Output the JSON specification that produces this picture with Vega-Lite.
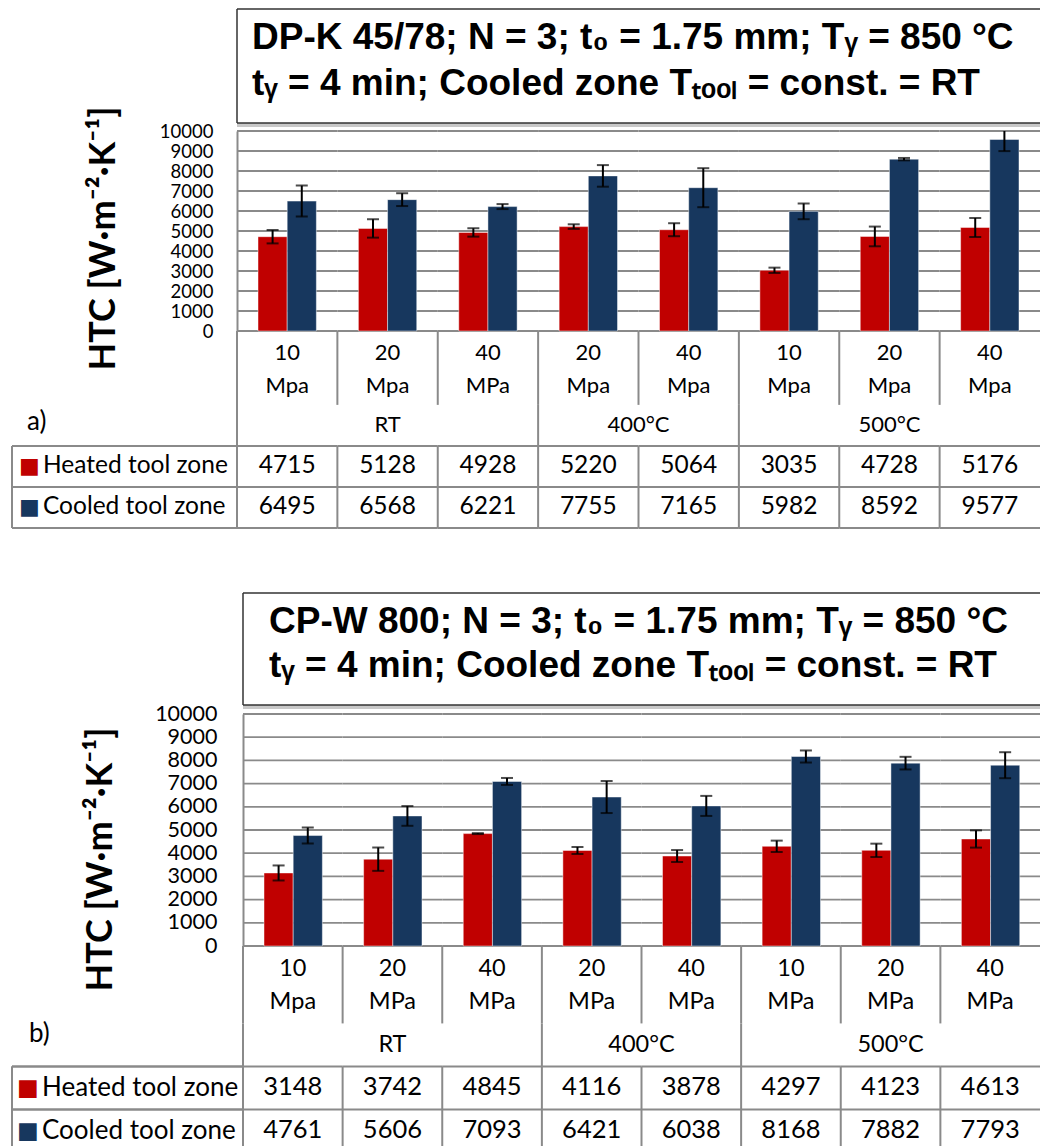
{
  "$schema": "https://vega.github.io/schema/vega-lite/v6.json",
  "background": "white",
  "padding": {"left": 11, "top": 8, "right": 0, "bottom": 0},
  "config": {
    "view": {"stroke": null},
    "text": {"font": "Lato", "color": "black"},
    "axis": {"labelFont": "Lato", "titleFont": "Lato"}
  },
  "datasets": {
    "a": [
      {"i": 0, "label": "10\nMpa", "temp": "RT", "series": "Heated tool zone", "htc": 4715, "lo": 4380, "hi": 5050},
      {"i": 0, "label": "10\nMpa", "temp": "RT", "series": "Cooled tool zone", "htc": 6495, "lo": 5720, "hi": 7270},
      {"i": 1, "label": "20\nMpa", "temp": "RT", "series": "Heated tool zone", "htc": 5128, "lo": 4668, "hi": 5588},
      {"i": 1, "label": "20\nMpa", "temp": "RT", "series": "Cooled tool zone", "htc": 6568, "lo": 6248, "hi": 6888},
      {"i": 2, "label": "40\nMPa", "temp": "RT", "series": "Heated tool zone", "htc": 4928, "lo": 4718, "hi": 5138},
      {"i": 2, "label": "40\nMPa", "temp": "RT", "series": "Cooled tool zone", "htc": 6221, "lo": 6096, "hi": 6346},
      {"i": 3, "label": "20\nMpa", "temp": "400°C", "series": "Heated tool zone", "htc": 5220, "lo": 5105, "hi": 5335},
      {"i": 3, "label": "20\nMpa", "temp": "400°C", "series": "Cooled tool zone", "htc": 7755, "lo": 7215, "hi": 8295},
      {"i": 4, "label": "40\nMpa", "temp": "400°C", "series": "Heated tool zone", "htc": 5064, "lo": 4739, "hi": 5389},
      {"i": 4, "label": "40\nMpa", "temp": "400°C", "series": "Cooled tool zone", "htc": 7165, "lo": 6190, "hi": 8140},
      {"i": 5, "label": "10\nMpa", "temp": "500°C", "series": "Heated tool zone", "htc": 3035, "lo": 2902, "hi": 3168},
      {"i": 5, "label": "10\nMpa", "temp": "500°C", "series": "Cooled tool zone", "htc": 5982, "lo": 5589, "hi": 6375},
      {"i": 6, "label": "20\nMpa", "temp": "500°C", "series": "Heated tool zone", "htc": 4728, "lo": 4235, "hi": 5221},
      {"i": 6, "label": "20\nMpa", "temp": "500°C", "series": "Cooled tool zone", "htc": 8592, "lo": 8532, "hi": 8652},
      {"i": 7, "label": "40\nMpa", "temp": "500°C", "series": "Heated tool zone", "htc": 5176, "lo": 4701, "hi": 5651},
      {"i": 7, "label": "40\nMpa", "temp": "500°C", "series": "Cooled tool zone", "htc": 9577, "lo": 8995, "hi": 10159}
    ],
    "b": [
      {"i": 0, "label": "10\nMpa", "temp": "RT", "series": "Heated tool zone", "htc": 3148, "lo": 2824, "hi": 3472},
      {"i": 0, "label": "10\nMpa", "temp": "RT", "series": "Cooled tool zone", "htc": 4761, "lo": 4416, "hi": 5106},
      {"i": 1, "label": "20\nMPa", "temp": "RT", "series": "Heated tool zone", "htc": 3742, "lo": 3239, "hi": 4245},
      {"i": 1, "label": "20\nMPa", "temp": "RT", "series": "Cooled tool zone", "htc": 5606, "lo": 5181, "hi": 6031},
      {"i": 2, "label": "40\nMPa", "temp": "RT", "series": "Heated tool zone", "htc": 4845, "lo": 4825, "hi": 4865},
      {"i": 2, "label": "40\nMPa", "temp": "RT", "series": "Cooled tool zone", "htc": 7093, "lo": 6943, "hi": 7243},
      {"i": 3, "label": "20\nMPa", "temp": "400°C", "series": "Heated tool zone", "htc": 4116, "lo": 3965, "hi": 4267},
      {"i": 3, "label": "20\nMPa", "temp": "400°C", "series": "Cooled tool zone", "htc": 6421, "lo": 5731, "hi": 7111},
      {"i": 4, "label": "40\nMPa", "temp": "400°C", "series": "Heated tool zone", "htc": 3878, "lo": 3620, "hi": 4136},
      {"i": 4, "label": "40\nMPa", "temp": "400°C", "series": "Cooled tool zone", "htc": 6038, "lo": 5606, "hi": 6470},
      {"i": 5, "label": "10\nMPa", "temp": "500°C", "series": "Heated tool zone", "htc": 4297, "lo": 4052, "hi": 4542},
      {"i": 5, "label": "10\nMPa", "temp": "500°C", "series": "Cooled tool zone", "htc": 8168, "lo": 7908, "hi": 8428},
      {"i": 6, "label": "20\nMPa", "temp": "500°C", "series": "Heated tool zone", "htc": 4123, "lo": 3835, "hi": 4411},
      {"i": 6, "label": "20\nMPa", "temp": "500°C", "series": "Cooled tool zone", "htc": 7882, "lo": 7610, "hi": 8154},
      {"i": 7, "label": "40\nMPa", "temp": "500°C", "series": "Heated tool zone", "htc": 4613, "lo": 4241, "hi": 4985},
      {"i": 7, "label": "40\nMPa", "temp": "500°C", "series": "Cooled tool zone", "htc": 7793, "lo": 7233, "hi": 8353}
    ],
    "groups": [
      {"temp": "RT", "first": 0, "mid": 1, "n": 3},
      {"temp": "400°C", "first": 3, "mid": 4, "n": 2},
      {"temp": "500°C", "first": 5, "mid": 6, "n": 3}
    ]
  },
  "spacing": 63,
  "vconcat": [
    {
      "columns": 2,
      "spacing": 0,
      "bounds": "flush",
      "concat": [
        {"width": 1, "height": 122, "data": {"values": []}, "mark": "point"},
        {
          "width": 803, "height": 114,
          "data": {"values": [{"title": "DP-K 45/78; N = 3; t₀ = 1.75 mm; Tᵧ = 850 °C\ntᵧ = 4 min;  Cooled zone Tₜₒₒₗ = const. = RT"}]},
          "layer": [
            {"mark": {"type": "rule", "color": "#c8c8c8", "strokeWidth": 8},
             "encoding": {"x": {"datum": 0, "type": "quantitative", "scale": {"domain": [0, 1], "nice": false}, "axis": null}, "x2": {"datum": 1}, "y": {"datum": 0, "type": "quantitative", "scale": {"domain": [0, 1], "nice": false}, "axis": null}}},
            {"mark": {"type": "rect", "color": "white"},
             "encoding": {"x": {"datum": 0}, "x2": {"datum": 1}, "y": {"datum": 0}, "y2": {"datum": 1}}},
            {"mark": {"type": "rule", "color": "#333333", "strokeWidth": 1.5},
             "encoding": {"x": {"datum": 0}, "x2": {"datum": 1}, "y": {"datum": 1}}},
            {"mark": {"type": "rule", "color": "#333333", "strokeWidth": 1.5},
             "encoding": {"x": {"datum": 0}, "x2": {"datum": 1}, "y": {"datum": 0}}},
            {"mark": {"type": "rule", "color": "#333333", "strokeWidth": 1.5},
             "encoding": {"x": {"datum": 0}, "y": {"datum": 0}, "y2": {"datum": 1}}},
            {"mark": {"type": "text", "font": "Liberation Sans", "fontWeight": "bold", "fontSize": 37, "lineHeight": 46, "lineBreak": "\n", "align": "left", "baseline": "alphabetic", "dx": 15, "dy": 40},
             "encoding": {"x": {"datum": 0}, "y": {"datum": 1}, "text": {"field": "title"}}}
          ]
        },
        {"width": 1, "height": 1, "data": {"values": []}, "mark": "point"},
        {
          "width": 803, "height": 200,
          "data": {"name": "a"},
          "layer": [
            {"transform": [{"filter": "datum.series == 'Heated tool zone'"}], "mark": {"type": "bar", "fillOpacity": 0, "stroke": "#8a8a8a", "strokeWidth": 1.8},
             "encoding": {"x": {"field": "i", "type": "ordinal", "axis": null, "scale": {"domain": [0, 1, 2, 3, 4, 5, 6, 7], "paddingInner": 0, "paddingOuter": 0}},
               "y": {"datum": 1000, "type": "quantitative", "scale": {"domain": [0, 10000], "nice": false}, "axis": {"values": [0, 1000, 2000, 3000, 4000, 5000, 6000, 7000, 8000, 9000, 10000], "format": "d", "labelOverlap": false, "grid": false, "domainColor": "#8a8a8a", "domainWidth": 2, "ticks": false, "labelPadding": 24, "labelFontSize": 18.5, "labelColor": "black", "title": "HTC [W·m⁻²·K⁻¹]", "titleFontSize": 36, "titleFontWeight": "bold", "titleColor": "black", "titlePadding": 37, "titleY": 107}}, "y2": {"datum": 1000}}},
            {"transform": [{"filter": "datum.series == 'Heated tool zone'"}], "mark": {"type": "bar", "fillOpacity": 0, "stroke": "#8a8a8a", "strokeWidth": 1.8},
             "encoding": {"x": {"field": "i", "type": "ordinal"}, "y": {"datum": 2000, "type": "quantitative", "axis": {"values": [0, 1000, 2000, 3000, 4000, 5000, 6000, 7000, 8000, 9000, 10000], "format": "d", "labelOverlap": false, "grid": false, "domainColor": "#8a8a8a", "domainWidth": 2, "ticks": false, "labelPadding": 24, "labelFontSize": 18.5, "labelColor": "black", "title": "HTC [W·m⁻²·K⁻¹]", "titleFontSize": 36, "titleFontWeight": "bold", "titleColor": "black", "titlePadding": 37, "titleY": 107}}, "y2": {"datum": 2000}}},
            {"transform": [{"filter": "datum.series == 'Heated tool zone'"}], "mark": {"type": "bar", "fillOpacity": 0, "stroke": "#8a8a8a", "strokeWidth": 1.8},
             "encoding": {"x": {"field": "i", "type": "ordinal"}, "y": {"datum": 3000, "type": "quantitative", "axis": {"values": [0, 1000, 2000, 3000, 4000, 5000, 6000, 7000, 8000, 9000, 10000], "format": "d", "labelOverlap": false, "grid": false, "domainColor": "#8a8a8a", "domainWidth": 2, "ticks": false, "labelPadding": 24, "labelFontSize": 18.5, "labelColor": "black", "title": "HTC [W·m⁻²·K⁻¹]", "titleFontSize": 36, "titleFontWeight": "bold", "titleColor": "black", "titlePadding": 37, "titleY": 107}}, "y2": {"datum": 3000}}},
            {"transform": [{"filter": "datum.series == 'Heated tool zone'"}], "mark": {"type": "bar", "fillOpacity": 0, "stroke": "#8a8a8a", "strokeWidth": 1.8},
             "encoding": {"x": {"field": "i", "type": "ordinal"}, "y": {"datum": 4000, "type": "quantitative", "axis": {"values": [0, 1000, 2000, 3000, 4000, 5000, 6000, 7000, 8000, 9000, 10000], "format": "d", "labelOverlap": false, "grid": false, "domainColor": "#8a8a8a", "domainWidth": 2, "ticks": false, "labelPadding": 24, "labelFontSize": 18.5, "labelColor": "black", "title": "HTC [W·m⁻²·K⁻¹]", "titleFontSize": 36, "titleFontWeight": "bold", "titleColor": "black", "titlePadding": 37, "titleY": 107}}, "y2": {"datum": 4000}}},
            {"transform": [{"filter": "datum.series == 'Heated tool zone'"}], "mark": {"type": "bar", "fillOpacity": 0, "stroke": "#8a8a8a", "strokeWidth": 1.8},
             "encoding": {"x": {"field": "i", "type": "ordinal"}, "y": {"datum": 5000, "type": "quantitative", "axis": {"values": [0, 1000, 2000, 3000, 4000, 5000, 6000, 7000, 8000, 9000, 10000], "format": "d", "labelOverlap": false, "grid": false, "domainColor": "#8a8a8a", "domainWidth": 2, "ticks": false, "labelPadding": 24, "labelFontSize": 18.5, "labelColor": "black", "title": "HTC [W·m⁻²·K⁻¹]", "titleFontSize": 36, "titleFontWeight": "bold", "titleColor": "black", "titlePadding": 37, "titleY": 107}}, "y2": {"datum": 5000}}},
            {"transform": [{"filter": "datum.series == 'Heated tool zone'"}], "mark": {"type": "bar", "fillOpacity": 0, "stroke": "#8a8a8a", "strokeWidth": 1.8},
             "encoding": {"x": {"field": "i", "type": "ordinal"}, "y": {"datum": 6000, "type": "quantitative", "axis": {"values": [0, 1000, 2000, 3000, 4000, 5000, 6000, 7000, 8000, 9000, 10000], "format": "d", "labelOverlap": false, "grid": false, "domainColor": "#8a8a8a", "domainWidth": 2, "ticks": false, "labelPadding": 24, "labelFontSize": 18.5, "labelColor": "black", "title": "HTC [W·m⁻²·K⁻¹]", "titleFontSize": 36, "titleFontWeight": "bold", "titleColor": "black", "titlePadding": 37, "titleY": 107}}, "y2": {"datum": 6000}}},
            {"transform": [{"filter": "datum.series == 'Heated tool zone'"}], "mark": {"type": "bar", "fillOpacity": 0, "stroke": "#8a8a8a", "strokeWidth": 1.8},
             "encoding": {"x": {"field": "i", "type": "ordinal"}, "y": {"datum": 7000, "type": "quantitative", "axis": {"values": [0, 1000, 2000, 3000, 4000, 5000, 6000, 7000, 8000, 9000, 10000], "format": "d", "labelOverlap": false, "grid": false, "domainColor": "#8a8a8a", "domainWidth": 2, "ticks": false, "labelPadding": 24, "labelFontSize": 18.5, "labelColor": "black", "title": "HTC [W·m⁻²·K⁻¹]", "titleFontSize": 36, "titleFontWeight": "bold", "titleColor": "black", "titlePadding": 37, "titleY": 107}}, "y2": {"datum": 7000}}},
            {"transform": [{"filter": "datum.series == 'Heated tool zone'"}], "mark": {"type": "bar", "fillOpacity": 0, "stroke": "#8a8a8a", "strokeWidth": 1.8},
             "encoding": {"x": {"field": "i", "type": "ordinal"}, "y": {"datum": 8000, "type": "quantitative", "axis": {"values": [0, 1000, 2000, 3000, 4000, 5000, 6000, 7000, 8000, 9000, 10000], "format": "d", "labelOverlap": false, "grid": false, "domainColor": "#8a8a8a", "domainWidth": 2, "ticks": false, "labelPadding": 24, "labelFontSize": 18.5, "labelColor": "black", "title": "HTC [W·m⁻²·K⁻¹]", "titleFontSize": 36, "titleFontWeight": "bold", "titleColor": "black", "titlePadding": 37, "titleY": 107}}, "y2": {"datum": 8000}}},
            {"transform": [{"filter": "datum.series == 'Heated tool zone'"}], "mark": {"type": "bar", "fillOpacity": 0, "stroke": "#8a8a8a", "strokeWidth": 1.8},
             "encoding": {"x": {"field": "i", "type": "ordinal"}, "y": {"datum": 9000, "type": "quantitative", "axis": {"values": [0, 1000, 2000, 3000, 4000, 5000, 6000, 7000, 8000, 9000, 10000], "format": "d", "labelOverlap": false, "grid": false, "domainColor": "#8a8a8a", "domainWidth": 2, "ticks": false, "labelPadding": 24, "labelFontSize": 18.5, "labelColor": "black", "title": "HTC [W·m⁻²·K⁻¹]", "titleFontSize": 36, "titleFontWeight": "bold", "titleColor": "black", "titlePadding": 37, "titleY": 107}}, "y2": {"datum": 9000}}},
            {"transform": [{"filter": "datum.series == 'Heated tool zone'"}], "mark": {"type": "bar", "fillOpacity": 0, "stroke": "#8a8a8a", "strokeWidth": 1.8},
             "encoding": {"x": {"field": "i", "type": "ordinal"}, "y": {"datum": 10000, "type": "quantitative", "axis": {"values": [0, 1000, 2000, 3000, 4000, 5000, 6000, 7000, 8000, 9000, 10000], "format": "d", "labelOverlap": false, "grid": false, "domainColor": "#8a8a8a", "domainWidth": 2, "ticks": false, "labelPadding": 24, "labelFontSize": 18.5, "labelColor": "black", "title": "HTC [W·m⁻²·K⁻¹]", "titleFontSize": 36, "titleFontWeight": "bold", "titleColor": "black", "titlePadding": 37, "titleY": 107}}, "y2": {"datum": 10000}}},
            {"transform": [{"filter": "datum.series == 'Heated tool zone'"}], "mark": {"type": "bar", "fillOpacity": 0, "stroke": "#8a8a8a", "strokeWidth": 1.8},
             "encoding": {"x": {"field": "i", "type": "ordinal"}, "y": {"datum": 0, "type": "quantitative", "axis": {"values": [0, 1000, 2000, 3000, 4000, 5000, 6000, 7000, 8000, 9000, 10000], "format": "d", "labelOverlap": false, "grid": false, "domainColor": "#8a8a8a", "domainWidth": 2, "ticks": false, "labelPadding": 24, "labelFontSize": 18.5, "labelColor": "black", "title": "HTC [W·m⁻²·K⁻¹]", "titleFontSize": 36, "titleFontWeight": "bold", "titleColor": "black", "titlePadding": 37, "titleY": 107}}, "y2": {"datum": 0}}},
            {"mark": {"type": "bar", "stroke": "#ffffff", "strokeOpacity": 0.45, "strokeWidth": 1},
             "encoding": {
               "x": {"field": "i", "type": "ordinal"},
               "xOffset": {"field": "series", "type": "nominal", "scale": {"domain": ["Heated tool zone", "Cooled tool zone"], "paddingInner": 0, "paddingOuter": 0.72}},
               "y": {"field": "htc", "type": "quantitative", "axis": {"values": [0, 1000, 2000, 3000, 4000, 5000, 6000, 7000, 8000, 9000, 10000], "format": "d", "labelOverlap": false, "grid": false, "domainColor": "#8a8a8a", "domainWidth": 2, "ticks": false, "labelPadding": 24, "labelFontSize": 18.5, "labelColor": "black", "title": "HTC [W·m⁻²·K⁻¹]", "titleFontSize": 36, "titleFontWeight": "bold", "titleColor": "black", "titlePadding": 37, "titleY": 107}},
               "color": {"field": "series", "type": "nominal", "scale": {"domain": ["Heated tool zone", "Cooled tool zone"], "range": ["#C00000", "#17375E"]}, "legend": null}
             }},
            {"mark": {"type": "rule", "color": "black", "strokeWidth": 2, "clip": true},
             "encoding": {
               "x": {"field": "i", "type": "ordinal"},
               "xOffset": {"field": "series", "type": "nominal"},
               "y": {"field": "lo", "type": "quantitative", "axis": {"values": [0, 1000, 2000, 3000, 4000, 5000, 6000, 7000, 8000, 9000, 10000], "format": "d", "labelOverlap": false, "grid": false, "domainColor": "#8a8a8a", "domainWidth": 2, "ticks": false, "labelPadding": 24, "labelFontSize": 18.5, "labelColor": "black", "title": "HTC [W·m⁻²·K⁻¹]", "titleFontSize": 36, "titleFontWeight": "bold", "titleColor": "black", "titlePadding": 37, "titleY": 107}},
               "y2": {"field": "hi"}}},
            {"mark": {"type": "tick", "color": "black", "thickness": 2, "size": 12, "clip": true},
             "encoding": {
               "x": {"field": "i", "type": "ordinal"},
               "xOffset": {"field": "series", "type": "nominal"},
               "y": {"field": "lo", "type": "quantitative", "axis": {"values": [0, 1000, 2000, 3000, 4000, 5000, 6000, 7000, 8000, 9000, 10000], "format": "d", "labelOverlap": false, "grid": false, "domainColor": "#8a8a8a", "domainWidth": 2, "ticks": false, "labelPadding": 24, "labelFontSize": 18.5, "labelColor": "black", "title": "HTC [W·m⁻²·K⁻¹]", "titleFontSize": 36, "titleFontWeight": "bold", "titleColor": "black", "titlePadding": 37, "titleY": 107}}}},
            {"mark": {"type": "tick", "color": "black", "thickness": 2, "size": 12, "clip": true},
             "encoding": {
               "x": {"field": "i", "type": "ordinal"},
               "xOffset": {"field": "series", "type": "nominal"},
               "y": {"field": "hi", "type": "quantitative", "axis": {"values": [0, 1000, 2000, 3000, 4000, 5000, 6000, 7000, 8000, 9000, 10000], "format": "d", "labelOverlap": false, "grid": false, "domainColor": "#8a8a8a", "domainWidth": 2, "ticks": false, "labelPadding": 24, "labelFontSize": 18.5, "labelColor": "black", "title": "HTC [W·m⁻²·K⁻¹]", "titleFontSize": 36, "titleFontWeight": "bold", "titleColor": "black", "titlePadding": 37, "titleY": 107}}}}
          ]
        },
        {
          "width": 225, "height": 197,
          "data": {"name": "a"},
          "transform": [{"filter": "datum.i == 0"}],
          "layer": [
            {"mark": {"type": "rule", "color": "#8a8a8a", "strokeWidth": 2},
             "encoding": {"x": {"datum": 0, "type": "quantitative", "scale": {"domain": [0, 1], "nice": false}, "axis": null}, "x2": {"datum": 1}, "y": {"datum": 2.8, "type": "quantitative", "scale": {"domain": [0, 4.8], "nice": false, "reverse": true}, "axis": null}}},
            {"mark": {"type": "rule", "color": "#8a8a8a", "strokeWidth": 2},
             "encoding": {"x": {"datum": 0}, "x2": {"datum": 1}, "y": {"datum": 3.8}}},
            {"mark": {"type": "rule", "color": "#8a8a8a", "strokeWidth": 2},
             "encoding": {"x": {"datum": 0}, "x2": {"datum": 1}, "y": {"datum": 4.8}}},
            {"mark": {"type": "rule", "color": "#8a8a8a", "strokeWidth": 2},
             "encoding": {"x": {"datum": 0}, "y": {"datum": 2.8}, "y2": {"datum": 4.8}}},
            {"transform": [{"filter": "datum.series == 'Heated tool zone'"}],
             "mark": {"type": "text", "font": "DejaVu Sans", "fontSize": 22, "align": "left", "baseline": "middle", "dx": 7},
             "encoding": {"x": {"datum": 0}, "y": {"datum": 3.3}, "text": {"value": "■"}, "color": {"field": "series", "type": "nominal", "scale": {"domain": ["Heated tool zone", "Cooled tool zone"], "range": ["#C00000", "#17375E"]}, "legend": null}}},
            {"transform": [{"filter": "datum.series == 'Cooled tool zone'"}],
             "mark": {"type": "text", "font": "DejaVu Sans", "fontSize": 22, "align": "left", "baseline": "middle", "dx": 7},
             "encoding": {"x": {"datum": 0}, "y": {"datum": 4.3}, "text": {"value": "■"}, "color": {"field": "series", "type": "nominal", "legend": null}}},
            {"transform": [{"filter": "datum.series == 'Heated tool zone'"}],
             "mark": {"type": "text", "fontSize": 24.5, "align": "left", "baseline": "middle", "dx": 31},
             "encoding": {"x": {"datum": 0}, "y": {"datum": 3.3}, "text": {"field": "series"}}},
            {"transform": [{"filter": "datum.series == 'Cooled tool zone'"}],
             "mark": {"type": "text", "fontSize": 24.5, "align": "left", "baseline": "middle", "dx": 31},
             "encoding": {"x": {"datum": 0}, "y": {"datum": 4.3}, "text": {"field": "series"}}},
            {"transform": [{"filter": "datum.series == 'Heated tool zone'"}],
             "mark": {"type": "text", "fontSize": 26, "align": "left", "baseline": "middle", "dx": 15},
             "encoding": {"x": {"datum": 0}, "y": {"datum": 2.22}, "text": {"value": "a)"}}}
          ]
        },
        {
          "width": 803, "height": 197,
          "data": {"name": "a"},
          "encoding": {"x": {"field": "i", "type": "ordinal", "axis": null, "scale": {"domain": [0, 1, 2, 3, 4, 5, 6, 7], "paddingInner": 0, "paddingOuter": 0}}},
          "layer": [
            {"transform": [{"filter": "datum.series == 'Heated tool zone'"}],
             "mark": {"type": "rule", "color": "#8a8a8a", "strokeWidth": 2},
             "encoding": {"x": {"field": "i", "type": "ordinal", "bandPosition": 0}, "y": {"datum": 0, "type": "quantitative", "scale": {"domain": [0, 4.8], "nice": false, "reverse": true}, "axis": null}, "y2": {"datum": 1.8}}},
            {"transform": [{"filter": "datum.series == 'Heated tool zone'"}],
             "mark": {"type": "rule", "color": "#8a8a8a", "strokeWidth": 2},
             "encoding": {"x": {"field": "i", "type": "ordinal", "bandPosition": 0}, "y": {"datum": 2.8}, "y2": {"datum": 4.8}}},
            {"data": {"name": "groups"},
             "mark": {"type": "rule", "color": "#8a8a8a", "strokeWidth": 2},
             "encoding": {"x": {"field": "first", "type": "ordinal", "bandPosition": 0}, "y": {"datum": 1.8}, "y2": {"datum": 2.8}}},
            {"transform": [{"filter": "datum.series == 'Heated tool zone'"}],
             "mark": {"type": "bar", "fillOpacity": 0, "stroke": "#8a8a8a", "strokeWidth": 2},
             "encoding": {"y": {"datum": 2.8}, "y2": {"datum": 2.8}}},
            {"transform": [{"filter": "datum.series == 'Heated tool zone'"}],
             "mark": {"type": "bar", "fillOpacity": 0, "stroke": "#8a8a8a", "strokeWidth": 2},
             "encoding": {"y": {"datum": 3.8}, "y2": {"datum": 3.8}}},
            {"transform": [{"filter": "datum.series == 'Heated tool zone'"}],
             "mark": {"type": "bar", "fillOpacity": 0, "stroke": "#8a8a8a", "strokeWidth": 2},
             "encoding": {"y": {"datum": 4.8}, "y2": {"datum": 4.8}}},
            {"transform": [{"filter": "datum.series == 'Heated tool zone'"}],
             "mark": {"type": "text", "fontSize": 22, "lineHeight": 32.4, "lineBreak": "\n", "align": "center", "baseline": "middle"},
             "encoding": {"y": {"datum": 0.54}, "text": {"field": "label"}}},
            {"data": {"name": "groups"},
             "transform": [{"filter": "datum.n == 3"}],
             "mark": {"type": "text", "fontSize": 22, "align": "center", "baseline": "middle"},
             "encoding": {"x": {"field": "mid", "type": "ordinal"}, "y": {"datum": 2.3}, "text": {"field": "temp"}}},
            {"data": {"name": "groups"},
             "transform": [{"filter": "datum.n == 2"}],
             "mark": {"type": "text", "fontSize": 22, "align": "center", "baseline": "middle"},
             "encoding": {"x": {"field": "mid", "type": "ordinal", "bandPosition": 0}, "y": {"datum": 2.3}, "text": {"field": "temp"}}},
            {"transform": [{"filter": "datum.series == 'Heated tool zone'"}],
             "mark": {"type": "text", "fontSize": 24.5, "align": "center", "baseline": "middle"},
             "encoding": {"y": {"datum": 3.3}, "text": {"field": "htc", "type": "quantitative", "format": "d"}}},
            {"transform": [{"filter": "datum.series == 'Cooled tool zone'"}],
             "mark": {"type": "text", "fontSize": 24.5, "align": "center", "baseline": "middle"},
             "encoding": {"y": {"datum": 4.3}, "text": {"field": "htc", "type": "quantitative", "format": "d"}}}
          ]
        }
      ]
    },
    {
      "columns": 2,
      "spacing": 0,
      "bounds": "flush",
      "concat": [
        {"width": 1, "height": 121, "data": {"values": []}, "mark": "point"},
        {
          "width": 797, "height": 112,
          "data": {"values": [{"title": "CP-W 800; N = 3; t₀ = 1.75 mm; Tᵧ = 850 °C\ntᵧ = 4 min;  Cooled zone Tₜₒₒₗ = const. = RT"}]},
          "layer": [
            {"mark": {"type": "rule", "color": "#c8c8c8", "strokeWidth": 8},
             "encoding": {"x": {"datum": 0, "type": "quantitative", "scale": {"domain": [0, 1], "nice": false}, "axis": null}, "x2": {"datum": 1}, "y": {"datum": 0, "type": "quantitative", "scale": {"domain": [0, 1], "nice": false}, "axis": null}}},
            {"mark": {"type": "rect", "color": "white"},
             "encoding": {"x": {"datum": 0}, "x2": {"datum": 1}, "y": {"datum": 0}, "y2": {"datum": 1}}},
            {"mark": {"type": "rule", "color": "#333333", "strokeWidth": 1.5},
             "encoding": {"x": {"datum": 0}, "x2": {"datum": 1}, "y": {"datum": 1}}},
            {"mark": {"type": "rule", "color": "#333333", "strokeWidth": 1.5},
             "encoding": {"x": {"datum": 0}, "x2": {"datum": 1}, "y": {"datum": 0}}},
            {"mark": {"type": "rule", "color": "#333333", "strokeWidth": 1.5},
             "encoding": {"x": {"datum": 0}, "y": {"datum": 0}, "y2": {"datum": 1}}},
            {"mark": {"type": "text", "font": "Liberation Sans", "fontWeight": "bold", "fontSize": 37, "lineHeight": 44, "lineBreak": "\n", "align": "left", "baseline": "alphabetic", "dx": 26, "dy": 40},
             "encoding": {"x": {"datum": 0}, "y": {"datum": 1}, "text": {"field": "title"}}}
          ]
        },
        {"width": 1, "height": 1, "data": {"values": []}, "mark": "point"},
        {
          "width": 797, "height": 232,
          "data": {"name": "b"},
          "layer": [
            {"transform": [{"filter": "datum.series == 'Heated tool zone'"}], "mark": {"type": "bar", "fillOpacity": 0, "stroke": "#8a8a8a", "strokeWidth": 1.8},
             "encoding": {"x": {"field": "i", "type": "ordinal", "axis": null, "scale": {"domain": [0, 1, 2, 3, 4, 5, 6, 7], "paddingInner": 0, "paddingOuter": 0}},
               "y": {"datum": 1000, "type": "quantitative", "scale": {"domain": [0, 10000], "nice": false}, "axis": {"values": [0, 1000, 2000, 3000, 4000, 5000, 6000, 7000, 8000, 9000, 10000], "format": "d", "labelOverlap": false, "grid": false, "domainColor": "#8a8a8a", "domainWidth": 2, "ticks": false, "labelPadding": 26, "labelFontSize": 21.5, "labelColor": "black", "title": "HTC [W·m⁻²·K⁻¹]", "titleFontSize": 36, "titleFontWeight": "bold", "titleColor": "black", "titlePadding": 35, "titleY": 145}}, "y2": {"datum": 1000}}},
            {"transform": [{"filter": "datum.series == 'Heated tool zone'"}], "mark": {"type": "bar", "fillOpacity": 0, "stroke": "#8a8a8a", "strokeWidth": 1.8},
             "encoding": {"x": {"field": "i", "type": "ordinal"}, "y": {"datum": 2000, "type": "quantitative", "axis": {"values": [0, 1000, 2000, 3000, 4000, 5000, 6000, 7000, 8000, 9000, 10000], "format": "d", "labelOverlap": false, "grid": false, "domainColor": "#8a8a8a", "domainWidth": 2, "ticks": false, "labelPadding": 26, "labelFontSize": 21.5, "labelColor": "black", "title": "HTC [W·m⁻²·K⁻¹]", "titleFontSize": 36, "titleFontWeight": "bold", "titleColor": "black", "titlePadding": 35, "titleY": 145}}, "y2": {"datum": 2000}}},
            {"transform": [{"filter": "datum.series == 'Heated tool zone'"}], "mark": {"type": "bar", "fillOpacity": 0, "stroke": "#8a8a8a", "strokeWidth": 1.8},
             "encoding": {"x": {"field": "i", "type": "ordinal"}, "y": {"datum": 3000, "type": "quantitative", "axis": {"values": [0, 1000, 2000, 3000, 4000, 5000, 6000, 7000, 8000, 9000, 10000], "format": "d", "labelOverlap": false, "grid": false, "domainColor": "#8a8a8a", "domainWidth": 2, "ticks": false, "labelPadding": 26, "labelFontSize": 21.5, "labelColor": "black", "title": "HTC [W·m⁻²·K⁻¹]", "titleFontSize": 36, "titleFontWeight": "bold", "titleColor": "black", "titlePadding": 35, "titleY": 145}}, "y2": {"datum": 3000}}},
            {"transform": [{"filter": "datum.series == 'Heated tool zone'"}], "mark": {"type": "bar", "fillOpacity": 0, "stroke": "#8a8a8a", "strokeWidth": 1.8},
             "encoding": {"x": {"field": "i", "type": "ordinal"}, "y": {"datum": 4000, "type": "quantitative", "axis": {"values": [0, 1000, 2000, 3000, 4000, 5000, 6000, 7000, 8000, 9000, 10000], "format": "d", "labelOverlap": false, "grid": false, "domainColor": "#8a8a8a", "domainWidth": 2, "ticks": false, "labelPadding": 26, "labelFontSize": 21.5, "labelColor": "black", "title": "HTC [W·m⁻²·K⁻¹]", "titleFontSize": 36, "titleFontWeight": "bold", "titleColor": "black", "titlePadding": 35, "titleY": 145}}, "y2": {"datum": 4000}}},
            {"transform": [{"filter": "datum.series == 'Heated tool zone'"}], "mark": {"type": "bar", "fillOpacity": 0, "stroke": "#8a8a8a", "strokeWidth": 1.8},
             "encoding": {"x": {"field": "i", "type": "ordinal"}, "y": {"datum": 5000, "type": "quantitative", "axis": {"values": [0, 1000, 2000, 3000, 4000, 5000, 6000, 7000, 8000, 9000, 10000], "format": "d", "labelOverlap": false, "grid": false, "domainColor": "#8a8a8a", "domainWidth": 2, "ticks": false, "labelPadding": 26, "labelFontSize": 21.5, "labelColor": "black", "title": "HTC [W·m⁻²·K⁻¹]", "titleFontSize": 36, "titleFontWeight": "bold", "titleColor": "black", "titlePadding": 35, "titleY": 145}}, "y2": {"datum": 5000}}},
            {"transform": [{"filter": "datum.series == 'Heated tool zone'"}], "mark": {"type": "bar", "fillOpacity": 0, "stroke": "#8a8a8a", "strokeWidth": 1.8},
             "encoding": {"x": {"field": "i", "type": "ordinal"}, "y": {"datum": 6000, "type": "quantitative", "axis": {"values": [0, 1000, 2000, 3000, 4000, 5000, 6000, 7000, 8000, 9000, 10000], "format": "d", "labelOverlap": false, "grid": false, "domainColor": "#8a8a8a", "domainWidth": 2, "ticks": false, "labelPadding": 26, "labelFontSize": 21.5, "labelColor": "black", "title": "HTC [W·m⁻²·K⁻¹]", "titleFontSize": 36, "titleFontWeight": "bold", "titleColor": "black", "titlePadding": 35, "titleY": 145}}, "y2": {"datum": 6000}}},
            {"transform": [{"filter": "datum.series == 'Heated tool zone'"}], "mark": {"type": "bar", "fillOpacity": 0, "stroke": "#8a8a8a", "strokeWidth": 1.8},
             "encoding": {"x": {"field": "i", "type": "ordinal"}, "y": {"datum": 7000, "type": "quantitative", "axis": {"values": [0, 1000, 2000, 3000, 4000, 5000, 6000, 7000, 8000, 9000, 10000], "format": "d", "labelOverlap": false, "grid": false, "domainColor": "#8a8a8a", "domainWidth": 2, "ticks": false, "labelPadding": 26, "labelFontSize": 21.5, "labelColor": "black", "title": "HTC [W·m⁻²·K⁻¹]", "titleFontSize": 36, "titleFontWeight": "bold", "titleColor": "black", "titlePadding": 35, "titleY": 145}}, "y2": {"datum": 7000}}},
            {"transform": [{"filter": "datum.series == 'Heated tool zone'"}], "mark": {"type": "bar", "fillOpacity": 0, "stroke": "#8a8a8a", "strokeWidth": 1.8},
             "encoding": {"x": {"field": "i", "type": "ordinal"}, "y": {"datum": 8000, "type": "quantitative", "axis": {"values": [0, 1000, 2000, 3000, 4000, 5000, 6000, 7000, 8000, 9000, 10000], "format": "d", "labelOverlap": false, "grid": false, "domainColor": "#8a8a8a", "domainWidth": 2, "ticks": false, "labelPadding": 26, "labelFontSize": 21.5, "labelColor": "black", "title": "HTC [W·m⁻²·K⁻¹]", "titleFontSize": 36, "titleFontWeight": "bold", "titleColor": "black", "titlePadding": 35, "titleY": 145}}, "y2": {"datum": 8000}}},
            {"transform": [{"filter": "datum.series == 'Heated tool zone'"}], "mark": {"type": "bar", "fillOpacity": 0, "stroke": "#8a8a8a", "strokeWidth": 1.8},
             "encoding": {"x": {"field": "i", "type": "ordinal"}, "y": {"datum": 9000, "type": "quantitative", "axis": {"values": [0, 1000, 2000, 3000, 4000, 5000, 6000, 7000, 8000, 9000, 10000], "format": "d", "labelOverlap": false, "grid": false, "domainColor": "#8a8a8a", "domainWidth": 2, "ticks": false, "labelPadding": 26, "labelFontSize": 21.5, "labelColor": "black", "title": "HTC [W·m⁻²·K⁻¹]", "titleFontSize": 36, "titleFontWeight": "bold", "titleColor": "black", "titlePadding": 35, "titleY": 145}}, "y2": {"datum": 9000}}},
            {"transform": [{"filter": "datum.series == 'Heated tool zone'"}], "mark": {"type": "bar", "fillOpacity": 0, "stroke": "#8a8a8a", "strokeWidth": 1.8},
             "encoding": {"x": {"field": "i", "type": "ordinal"}, "y": {"datum": 10000, "type": "quantitative", "axis": {"values": [0, 1000, 2000, 3000, 4000, 5000, 6000, 7000, 8000, 9000, 10000], "format": "d", "labelOverlap": false, "grid": false, "domainColor": "#8a8a8a", "domainWidth": 2, "ticks": false, "labelPadding": 26, "labelFontSize": 21.5, "labelColor": "black", "title": "HTC [W·m⁻²·K⁻¹]", "titleFontSize": 36, "titleFontWeight": "bold", "titleColor": "black", "titlePadding": 35, "titleY": 145}}, "y2": {"datum": 10000}}},
            {"transform": [{"filter": "datum.series == 'Heated tool zone'"}], "mark": {"type": "bar", "fillOpacity": 0, "stroke": "#8a8a8a", "strokeWidth": 1.8},
             "encoding": {"x": {"field": "i", "type": "ordinal"}, "y": {"datum": 0, "type": "quantitative", "axis": {"values": [0, 1000, 2000, 3000, 4000, 5000, 6000, 7000, 8000, 9000, 10000], "format": "d", "labelOverlap": false, "grid": false, "domainColor": "#8a8a8a", "domainWidth": 2, "ticks": false, "labelPadding": 26, "labelFontSize": 21.5, "labelColor": "black", "title": "HTC [W·m⁻²·K⁻¹]", "titleFontSize": 36, "titleFontWeight": "bold", "titleColor": "black", "titlePadding": 35, "titleY": 145}}, "y2": {"datum": 0}}},
            {"mark": {"type": "bar", "stroke": "#ffffff", "strokeOpacity": 0.45, "strokeWidth": 1},
             "encoding": {
               "x": {"field": "i", "type": "ordinal"},
               "xOffset": {"field": "series", "type": "nominal", "scale": {"domain": ["Heated tool zone", "Cooled tool zone"], "paddingInner": 0, "paddingOuter": 0.72}},
               "y": {"field": "htc", "type": "quantitative", "axis": {"values": [0, 1000, 2000, 3000, 4000, 5000, 6000, 7000, 8000, 9000, 10000], "format": "d", "labelOverlap": false, "grid": false, "domainColor": "#8a8a8a", "domainWidth": 2, "ticks": false, "labelPadding": 26, "labelFontSize": 21.5, "labelColor": "black", "title": "HTC [W·m⁻²·K⁻¹]", "titleFontSize": 36, "titleFontWeight": "bold", "titleColor": "black", "titlePadding": 35, "titleY": 145}},
               "color": {"field": "series", "type": "nominal", "scale": {"domain": ["Heated tool zone", "Cooled tool zone"], "range": ["#C00000", "#17375E"]}, "legend": null}
             }},
            {"mark": {"type": "rule", "color": "black", "strokeWidth": 2, "clip": true},
             "encoding": {
               "x": {"field": "i", "type": "ordinal"},
               "xOffset": {"field": "series", "type": "nominal"},
               "y": {"field": "lo", "type": "quantitative", "axis": {"values": [0, 1000, 2000, 3000, 4000, 5000, 6000, 7000, 8000, 9000, 10000], "format": "d", "labelOverlap": false, "grid": false, "domainColor": "#8a8a8a", "domainWidth": 2, "ticks": false, "labelPadding": 26, "labelFontSize": 21.5, "labelColor": "black", "title": "HTC [W·m⁻²·K⁻¹]", "titleFontSize": 36, "titleFontWeight": "bold", "titleColor": "black", "titlePadding": 35, "titleY": 145}},
               "y2": {"field": "hi"}}},
            {"mark": {"type": "tick", "color": "black", "thickness": 2, "size": 12, "clip": true},
             "encoding": {
               "x": {"field": "i", "type": "ordinal"},
               "xOffset": {"field": "series", "type": "nominal"},
               "y": {"field": "lo", "type": "quantitative", "axis": {"values": [0, 1000, 2000, 3000, 4000, 5000, 6000, 7000, 8000, 9000, 10000], "format": "d", "labelOverlap": false, "grid": false, "domainColor": "#8a8a8a", "domainWidth": 2, "ticks": false, "labelPadding": 26, "labelFontSize": 21.5, "labelColor": "black", "title": "HTC [W·m⁻²·K⁻¹]", "titleFontSize": 36, "titleFontWeight": "bold", "titleColor": "black", "titlePadding": 35, "titleY": 145}}}},
            {"mark": {"type": "tick", "color": "black", "thickness": 2, "size": 12, "clip": true},
             "encoding": {
               "x": {"field": "i", "type": "ordinal"},
               "xOffset": {"field": "series", "type": "nominal"},
               "y": {"field": "hi", "type": "quantitative", "axis": {"values": [0, 1000, 2000, 3000, 4000, 5000, 6000, 7000, 8000, 9000, 10000], "format": "d", "labelOverlap": false, "grid": false, "domainColor": "#8a8a8a", "domainWidth": 2, "ticks": false, "labelPadding": 26, "labelFontSize": 21.5, "labelColor": "black", "title": "HTC [W·m⁻²·K⁻¹]", "titleFontSize": 36, "titleFontWeight": "bold", "titleColor": "black", "titlePadding": 35, "titleY": 145}}}}
          ]
        },
        {
          "width": 231, "height": 200,
          "data": {"name": "b"},
          "transform": [{"filter": "datum.i == 0"}],
          "layer": [
            {"mark": {"type": "rule", "color": "#8a8a8a", "strokeWidth": 2},
             "encoding": {"x": {"datum": 0, "type": "quantitative", "scale": {"domain": [0, 1], "nice": false}, "axis": null}, "x2": {"datum": 1}, "y": {"datum": 2.8, "type": "quantitative", "scale": {"domain": [0, 4.65], "nice": false, "reverse": true}, "axis": null}}},
            {"mark": {"type": "rule", "color": "#8a8a8a", "strokeWidth": 2},
             "encoding": {"x": {"datum": 0}, "x2": {"datum": 1}, "y": {"datum": 3.8}}},
            {"mark": {"type": "rule", "color": "#8a8a8a", "strokeWidth": 2},
             "encoding": {"x": {"datum": 0}, "y": {"datum": 2.8}, "y2": {"datum": 4.65}}},
            {"transform": [{"filter": "datum.series == 'Heated tool zone'"}],
             "mark": {"type": "text", "font": "DejaVu Sans", "fontSize": 23, "align": "left", "baseline": "middle", "dx": 5},
             "encoding": {"x": {"datum": 0}, "y": {"datum": 3.3}, "text": {"value": "■"}, "color": {"field": "series", "type": "nominal", "scale": {"domain": ["Heated tool zone", "Cooled tool zone"], "range": ["#C00000", "#17375E"]}, "legend": null}}},
            {"transform": [{"filter": "datum.series == 'Cooled tool zone'"}],
             "mark": {"type": "text", "font": "DejaVu Sans", "fontSize": 23, "align": "left", "baseline": "middle", "dx": 5},
             "encoding": {"x": {"datum": 0}, "y": {"datum": 4.3}, "text": {"value": "■"}, "color": {"field": "series", "type": "nominal", "legend": null}}},
            {"transform": [{"filter": "datum.series == 'Heated tool zone'"}],
             "mark": {"type": "text", "fontSize": 26, "align": "left", "baseline": "middle", "dx": 30},
             "encoding": {"x": {"datum": 0}, "y": {"datum": 3.3}, "text": {"field": "series"}}},
            {"transform": [{"filter": "datum.series == 'Cooled tool zone'"}],
             "mark": {"type": "text", "fontSize": 26, "align": "left", "baseline": "middle", "dx": 30},
             "encoding": {"x": {"datum": 0}, "y": {"datum": 4.3}, "text": {"field": "series"}}},
            {"transform": [{"filter": "datum.series == 'Heated tool zone'"}],
             "mark": {"type": "text", "fontSize": 26, "align": "left", "baseline": "middle", "dx": 17},
             "encoding": {"x": {"datum": 0}, "y": {"datum": 2.05}, "text": {"value": "b)"}}}
          ]
        },
        {
          "width": 797, "height": 200,
          "data": {"name": "b"},
          "encoding": {"x": {"field": "i", "type": "ordinal", "axis": null, "scale": {"domain": [0, 1, 2, 3, 4, 5, 6, 7], "paddingInner": 0, "paddingOuter": 0}}},
          "layer": [
            {"transform": [{"filter": "datum.series == 'Heated tool zone'"}],
             "mark": {"type": "rule", "color": "#8a8a8a", "strokeWidth": 2},
             "encoding": {"x": {"field": "i", "type": "ordinal", "bandPosition": 0}, "y": {"datum": 0, "type": "quantitative", "scale": {"domain": [0, 4.65], "nice": false, "reverse": true}, "axis": null}, "y2": {"datum": 1.8}}},
            {"transform": [{"filter": "datum.series == 'Heated tool zone'"}],
             "mark": {"type": "rule", "color": "#8a8a8a", "strokeWidth": 2},
             "encoding": {"x": {"field": "i", "type": "ordinal", "bandPosition": 0}, "y": {"datum": 2.8}, "y2": {"datum": 4.65}}},
            {"data": {"name": "groups"},
             "mark": {"type": "rule", "color": "#8a8a8a", "strokeWidth": 2},
             "encoding": {"x": {"field": "first", "type": "ordinal", "bandPosition": 0}, "y": {"datum": 1.8}, "y2": {"datum": 2.8}}},
            {"transform": [{"filter": "datum.series == 'Heated tool zone'"}],
             "mark": {"type": "bar", "fillOpacity": 0, "stroke": "#8a8a8a", "strokeWidth": 2},
             "encoding": {"y": {"datum": 2.8}, "y2": {"datum": 2.8}}},
            {"transform": [{"filter": "datum.series == 'Heated tool zone'"}],
             "mark": {"type": "bar", "fillOpacity": 0, "stroke": "#8a8a8a", "strokeWidth": 2},
             "encoding": {"y": {"datum": 3.8}, "y2": {"datum": 3.8}}},
            {"transform": [{"filter": "datum.series == 'Heated tool zone'"}],
             "mark": {"type": "text", "fontSize": 23.5, "lineHeight": 33.3, "lineBreak": "\n", "align": "center", "baseline": "middle"},
             "encoding": {"y": {"datum": 0.535}, "text": {"field": "label"}}},
            {"data": {"name": "groups"},
             "transform": [{"filter": "datum.n == 3"}],
             "mark": {"type": "text", "fontSize": 23.5, "align": "center", "baseline": "middle"},
             "encoding": {"x": {"field": "mid", "type": "ordinal"}, "y": {"datum": 2.3}, "text": {"field": "temp"}}},
            {"data": {"name": "groups"},
             "transform": [{"filter": "datum.n == 2"}],
             "mark": {"type": "text", "fontSize": 23.5, "align": "center", "baseline": "middle"},
             "encoding": {"x": {"field": "mid", "type": "ordinal", "bandPosition": 0}, "y": {"datum": 2.3}, "text": {"field": "temp"}}},
            {"transform": [{"filter": "datum.series == 'Heated tool zone'"}],
             "mark": {"type": "text", "fontSize": 25.5, "align": "center", "baseline": "middle"},
             "encoding": {"y": {"datum": 3.28}, "text": {"field": "htc", "type": "quantitative", "format": "d"}}},
            {"transform": [{"filter": "datum.series == 'Cooled tool zone'"}],
             "mark": {"type": "text", "fontSize": 25.5, "align": "center", "baseline": "middle"},
             "encoding": {"y": {"datum": 4.28}, "text": {"field": "htc", "type": "quantitative", "format": "d"}}}
          ]
        }
      ]
    }
  ]
}
